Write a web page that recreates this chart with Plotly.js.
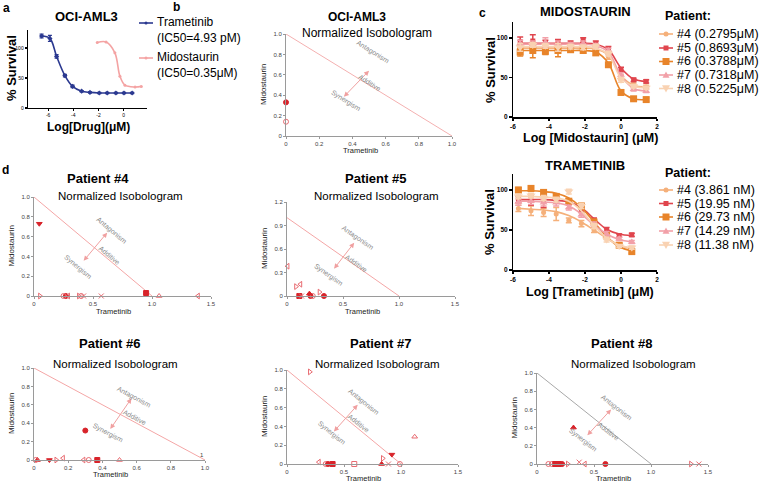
<!DOCTYPE html>
<html><head><meta charset="utf-8">
<script src="https://cdn.plot.ly/plotly-3.0.1.min.js"></script>
<style>html,body{margin:0;padding:0;background:#fff}</style>
</head><body><div id="chart" style="width:759px;height:482px"></div>
<script>
// ---------------- DATA ----------------
// Panel a: OCI-AML3 dose response (log µM, % survival)
const aTramLog  = [-6.52,-5.86,-5.33,-4.67,-4.06,-3.34,-2.68,-1.94,-1.31,-0.62,0.02,0.67];
const aTramSurv = [120,116,86,54,36,28,26,25,25,25,25,25];
const aMidoLog  = [-2.1,-1.4,-0.7,-0.3,0.1,0.9,1.4];
const aMidoSurv = [109,110,92,53,38,35,36];
const aNames = ['Trametinib','Midostaurin'];
const aIC50  = ['(IC50=4.93 pM)','(IC50=0.35μM)'];

// Panel b: OCI-AML3 normalized isobologram
const bTram = [0,0];
const bMido = [0.33,0.14];
const bSeries = [0,7];
const additiveX = [0,1];
const additiveY = [1,0];

// Panel c: patient dose responses
const patients = ['#4','#5','#6','#7','#8'];
const midoIC50 = ['0.2795μM','0.8693μM','0.3788μM','0.7318μM','0.5225μM'];
const tramIC50 = ['3.861 nM','19.95 nM','29.73 nM','14.29 nM','11.38 nM'];
const midoLog = [-5.6,-4.9,-4.2,-3.5,-2.8,-2.1,-1.4,-0.7,0,0.7,1.4];
const midoPts = [
  [86,88,89,85,88,90,86,76,50,41,38],
  [95,96,93,94,93,97,93,86,60,47,45],
  [82,84,83,84,85,84,81,66,31,23,22],
  [93,92,94,92,91,93,90,84,53,35,33],
  [88,91,90,88,89,88,89,80,47,39,37]];
const midoFit = [
  [87,87,87,87,87,87,86,78,52,40,38],
  [93,93,93,93,93,93,92,85,62,48,45],
  [84,84,84,84,84,84,82,68,33,23,22],
  [92,92,92,92,92,92,90,82,52,36,33],
  [89,89,89,89,89,89,87,79,49,39,37]];
const midoErr = [
  [4,3,3,4,3,3,3,3,3,2,2],
  [6,8,4,4,3,3,3,3,3,2,2],
  [5,9,4,8,3,3,3,3,3,2,2],
  [4,4,6,4,3,3,3,3,3,2,2],
  [5,3,3,5,3,3,3,3,3,2,2]];
const tramLog = [-5.7,-5.0,-4.3,-3.6,-2.9,-2.2,-1.5,-0.8,-0.1,0.6];
const tramPts = [
  [77,74,72,70,62,58,50,41,32,27],
  [88,87,86,88,85,75,62,50,43,44],
  [100,102,97,92,86,80,60,44,31,23],
  [85,86,84,84,78,69,57,45,39,35],
  [92,93,90,88,98,80,55,38,30,28]];
const tramFit = [
  [77,76,75,73,68,60,50,40,31,27],
  [88,88,88,87,85,78,64,51,45,43],
  [99,99,98,96,90,78,60,42,29,24],
  [86,86,85,84,80,70,56,45,38,35],
  [92,92,91,90,86,74,56,40,31,28]];
const tramErr = [
  [4,6,5,8,3,4,3,3,2,2],
  [4,6,8,4,3,3,3,3,2,2],
  [3,3,3,3,3,3,3,3,2,2],
  [4,4,4,4,3,3,3,3,2,2],
  [3,3,3,3,3,3,3,3,2,2]];

// Panel d: patient normalized isobolograms (Trametinib, Midostaurin, combination series index)
const p4Tram = [0.045,0.95,1.06,0.27,0.25,0.29,0.40,0.42,0.38,0.57,0.05,1.39];
const p4Mido = [0.73,0.03,0,0,0,0,0,0,0,0,0,0];
const p4Ser  = [3,1,9,0,7,5,7,6,4,6,4,5];
const p5Tram = [0.006,0.08,0.12,0.11,0.21,0.23,0.29,0.33,0.20,0.13];
const p5Mido = [0.38,0.12,0.15,0,0,0,0.05,0,0.03,0];
const p5Ser  = [5,4,5,1,0,7,4,0,2,6];
const p6Tram = [0.30,0.02,0.01,0.09,0.13,0.17,0.29,0.32,0.37,0.50];
const p6Mido = [0.32,0,0,0,0,0.02,0,0,0,0];
const p6Ser  = [0,2,7,3,4,5,5,7,1,9];
const p7Tram = [0.20,0.92,0.84,0.83,1.12,0.28,0.34,0.36,0.40,0.59,0.89,0.99];
const p7Mido = [0.98,0.10,0.06,0,0.29,0.02,0,0,0,0,0,0];
const p7Ser  = [4,3,4,2,9,5,7,0,1,8,6,7];
const p8Tram = [0.32,0.60,0.37,0.10,0.13,0.16,0.19,0.22,0.27,0.42,1.35,1.42];
const p8Mido = [0.40,0,0.02,0,0,0,0,0,0,0,0,0];
const p8Ser  = [2,0,6,7,7,1,1,0,4,5,4,6];

// ---------------- STYLE / LAYOUT ----------------
const W=759,H=482;
const X=p=>p/W, Y=p=>1-p/H;
const FONT='Liberation Sans, Arial, sans-serif';
const pColors=['#F5B07A','#E0454D','#E8842A','#F2A0A8','#F9D2B2'];
const pSym=['circle','square','square','triangle-up','triangle-down'];
const pSize=[5,5,7,7,8];
const SYM=['circle','square','triangle-up','triangle-down','triangle-right-open','triangle-left-open','x-thin-open','circle-open','square-open','triangle-up-open'];
const SYMCOL=['#D8232A','#D8232A','#D8232A','#D8232A','#E86A70','#E86A70','#E86A70','#E86A70','#E86A70','#E86A70'];

const traces=[];
const layout={width:W,height:H,margin:{l:0,r:0,t:0,b:0},paper_bgcolor:'#fff',plot_bgcolor:'rgba(0,0,0,0)',
  showlegend:false,font:{family:FONT,color:'#000'},annotations:[],shapes:[]};

function fmt(v){return v===0?'0':v.toFixed(1);}
function setAxes(n,xp0,xp1,xr,yp0,yp1,yr,o){
  const xs=n===1?'xaxis':'xaxis'+n, ys=n===1?'yaxis':'yaxis'+n;
  const base={showgrid:false,zeroline:false,showline:true,ticks:'outside',fixedrange:true,
    linecolor:o.lc,tickcolor:o.lc,linewidth:o.lw,tickwidth:o.lw,ticklen:o.tl,
    tickfont:{family:FONT,size:o.fs,color:o.tc}};
  layout[xs]=Object.assign({},base,{domain:[X(xp0),X(xp1)],range:xr,anchor:n===1?'y':'y'+n,
    tickvals:o.xt,ticktext:o.xtt||o.xt.map(fmt)});
  layout[ys]=Object.assign({},base,{domain:[Y(yp0),Y(yp1)],range:yr,anchor:n===1?'x':'x'+n,
    tickvals:o.yt,ticktext:o.ytt||o.yt.map(fmt)});
}
function txt(t,px,py,size,o={}){
  layout.annotations.push(Object.assign({text:t,x:X(px),y:Y(py),xref:'paper',yref:'paper',showarrow:false,
    xanchor:'center',yanchor:'middle',font:{family:FONT,size:size,color:o.color||'#000'}},o.extra||{}));
}
function refs(n){return n===1?{x:'x',y:'y'}:{x:'x'+n,y:'y'+n};}

// ---- Panel a ----
const prism={lc:'#000',lw:1.3,tl:2,fs:5,tc:'#000'};
setAxes(1,28,147,[-7.6,1.85],108,30,[0,130],Object.assign({},prism,{xt:[-6,-4,-2,0],xtt:['-6','-4','-2','0'],yt:[0,50,100],ytt:['0','50','100']}));
traces.push({x:aTramLog,y:aTramSurv,xaxis:'x',yaxis:'y',mode:'lines+markers',line:{color:'#2B3990',width:1.6,shape:'spline'},
  marker:{color:'#2B3990',size:4,symbol:'diamond'},error_y:{type:'data',array:[3,5,3,2,2,1,1,1,1,1,1,1],color:'#2B3990',thickness:1.2,width:2},cliponaxis:false});
traces.push({x:aMidoLog,y:aMidoSurv,xaxis:'x',yaxis:'y',mode:'lines+markers',line:{color:'#F4A3A3',width:1.6,shape:'spline'},
  marker:{color:'#F4A3A3',size:3},cliponaxis:false});
txt('<b>a</b>',6,8,12);
txt('<b>OCI-AML3</b>',86,17,13);
txt('<b>% Survival</b>',12,68,13,{extra:{textangle:-90}});
txt('<b>Log[Drug](μM)</b>',88,127,12);
// legend a
[[23,'#2B3990'],[58,'#F4A3A3']].forEach((r,i)=>{
  layout.shapes.push({type:'line',xref:'paper',yref:'paper',x0:X(139),x1:X(153),y0:Y(r[0]),y1:Y(r[0]),line:{color:r[1],width:1.6}});
  layout.shapes.push({type:'circle',xref:'paper',yref:'paper',x0:X(144.5),x1:X(147.5),y0:Y(r[0]+1.5),y1:Y(r[0]-1.5),fillcolor:r[1],line:{width:0}});
  txt(aNames[i]+'<br>'+aIC50[i],155,r[0]+7,12,{extra:{xanchor:'left',align:'left'}});
});

// ---- Isobolograms ----
const iso={lc:'#9a9a9a',lw:1,tl:2,fs:6,tc:'#444'};
function isoPanel(n,xp0,xp1,xmax,xdt,yp0,yp1,ymax,ydt,tx,my,ser,lineCol,arrow,labels,ang,xlabOff){
  const xt=[],yt=[];
  for(let v=0;v<=xmax+1e-9;v+=xdt) xt.push(+v.toFixed(2));
  for(let v=0;v<=ymax+1e-9;v+=ydt) yt.push(+v.toFixed(2));
  setAxes(n,xp0,xp1,[0,xmax],yp0,yp1,[0,ymax],Object.assign({},iso,{xt:xt,yt:yt}));
  const r=refs(n);
  traces.push({x:additiveX,y:additiveY,xaxis:r.x,yaxis:r.y,mode:'lines',line:{color:lineCol,width:1},cliponaxis:false,hoverinfo:'skip'});
  traces.push({x:tx,y:my,xaxis:r.x,yaxis:r.y,mode:'markers',cliponaxis:false,
    marker:{symbol:ser.map(s=>SYM[s]),color:ser.map(s=>SYMCOL[s]),size:5,line:{color:ser.map(s=>SYMCOL[s]),width:1}}});
  layout.annotations.push({xref:r.x,yref:r.y,axref:r.x,ayref:r.y,x:arrow[2],y:arrow[3],ax:arrow[0],ay:arrow[1],text:'',
    showarrow:true,arrowside:'end+start',arrowhead:2,startarrowhead:2,arrowsize:1,startarrowsize:1,arrowwidth:1,arrowcolor:'#F0A0A0'});
  ['Antagonism','Additive','Synergism'].forEach((t,i)=>{
    layout.annotations.push({xref:r.x,yref:r.y,x:labels[i][0],y:labels[i][1],text:t,showarrow:false,textangle:ang,
      font:{family:FONT,size:7,color:'#8a8a8a'}});
  });
  const cy=(yp0+yp1)/2;
  txt('Trametinib',xp0+(xp1-xp0)*0.45,yp0+xlabOff,7.5,{color:'#222'});
  txt('Midostaurin',xp0-23,cy,8,{color:'#222',extra:{textangle:-90}});
}

// b
isoPanel(2,286,452,1.0,0.2,136,34,1.0,0.2,bTram,bMido,bSeries,'#F4B0B0',[0.34,0.37,0.5,0.64],
  [[0.52,0.82],[0.5,0.52],[0.36,0.34]],32,14);
txt('<b>b</b>',176,7,12);
txt('<b>OCI-AML3</b>',357,17,12);
txt('Normalized Isobologram',367,33,12);

// #4
isoPanel(5,34,211,1.5,0.5,296,197,1.0,0.2,p4Tram,p4Mido,p4Ser,'#F4A6A6',[0.41,0.34,0.62,0.64],
  [[0.66,0.66],[0.64,0.41],[0.37,0.29]],40,15);
txt('<b>d</b>',5,170,12);
txt('<b>Patient #4</b>',98,178,13);
txt('Normalized Isobologram',120,196,11.5);
// #5
isoPanel(6,287,455,1.5,0.5,296,202,1.2,0.3,p5Tram,p5Mido,p5Ser,'#F4A6A6',[0.41,0.33,0.6,0.68],
  [[0.63,0.74],[0.62,0.42],[0.37,0.27]],35,15);
txt('<b>Patient #5</b>',375,178,13);
txt('Normalized Isobologram',376,196,11.5);
// #6
isoPanel(7,34,205,1.0,0.2,460,368,1.0,0.2,p6Tram,p6Mido,p6Ser,'#F4A6A6',[0.44,0.32,0.57,0.67],
  [[0.58,0.68],[0.59,0.46],[0.43,0.29]],28,14);
txt('<b>Patient #6</b>',109,343,13);
txt('Normalized Isobologram',116,364,11.5);
layout.annotations.push({xref:'x7',yref:'y7',x:0.985,y:0.05,text:'1',showarrow:false,font:{family:FONT,size:6,color:'#444'}});
// #7
isoPanel(8,287,458,1.5,0.5,464,370,1.0,0.2,p7Tram,p7Mido,p7Ser,'#F4A6A6',[0.4,0.33,0.62,0.63],
  [[0.67,0.66],[0.63,0.43],[0.39,0.33]],39,14);
txt('<b>Patient #7</b>',380,343,13);
txt('Normalized Isobologram',377,364,11.5);
// #8
isoPanel(9,537,708,1.5,0.5,464,373,1.0,0.2,p8Tram,p8Mido,p8Ser,'#A8A8A8',[0.43,0.30,0.65,0.60],
  [[0.70,0.62],[0.63,0.36],[0.40,0.26]],38,14);
txt('<b>Patient #8</b>',621,343,13);
txt('Normalized Isobologram',633,364,11.5);

// ---- Panel c ----
const prismC={lc:'#000',lw:1.5,tl:2.5,fs:6.5,tc:'#000'};
const cXt=[-6,-4,-2,0,2], cXtt=cXt.map(v=>'<b>'+v+'</b>'), cYt=[0,50,100], cYtt=cYt.map(v=>'<b>'+v+'</b>');
setAxes(3,513,657,[-6,2],117,22,[0,120],Object.assign({},prismC,{xt:cXt,xtt:cXtt,yt:cYt,ytt:cYtt}));
setAxes(4,513,657,[-6,2],270,174,[0,120],Object.assign({},prismC,{xt:cXt,xtt:cXtt,yt:cYt,ytt:cYtt}));
for(let i=0;i<5;i++){
  traces.push({x:midoLog,y:midoFit[i],xaxis:'x3',yaxis:'y3',mode:'lines',line:{color:pColors[i],width:1.6,shape:'spline'},hoverinfo:'skip'});
  traces.push({x:midoLog,y:midoPts[i],xaxis:'x3',yaxis:'y3',mode:'markers',cliponaxis:false,
    marker:{color:pColors[i],symbol:pSym[i],size:pSize[i]},error_y:{type:'data',array:midoErr[i],color:pColors[i],thickness:1.5,width:3}});
  traces.push({x:tramLog,y:tramFit[i],xaxis:'x4',yaxis:'y4',mode:'lines',line:{color:pColors[i],width:1.6,shape:'spline'},hoverinfo:'skip'});
  traces.push({x:tramLog,y:tramPts[i],xaxis:'x4',yaxis:'y4',mode:'markers',cliponaxis:false,
    marker:{color:pColors[i],symbol:pSym[i],size:pSize[i]},error_y:{type:'data',array:tramErr[i],color:pColors[i],thickness:1.5,width:3}});
}
txt('<b>c</b>',482,13,12);
txt('<b>MIDOSTAURIN</b>',585,11,13);
txt('<b>% Survival</b>',490,70,13,{extra:{textangle:-90}});
txt('<b>Log [Midostaurin] (μM)</b>',590,138,12.5);
txt('<b>TRAMETINIB</b>',585,165,13);
txt('<b>% Survival</b>',490,222,13,{extra:{textangle:-90}});
txt('<b>Log [Trametinib] (μM)</b>',590,292,12.5);

function swatch(px,py,i){
  const c=pColors[i], r=pSize[i]/2;
  layout.shapes.push({type:'line',xref:'paper',yref:'paper',x0:X(px-7),x1:X(px+7),y0:Y(py),y1:Y(py),line:{color:c,width:1.6}});
  const s=pSym[i];
  if(s==='circle') layout.shapes.push({type:'circle',xref:'paper',yref:'paper',x0:X(px-r),x1:X(px+r),y0:Y(py+r),y1:Y(py-r),fillcolor:c,line:{width:0}});
  else if(s==='square') layout.shapes.push({type:'rect',xref:'paper',yref:'paper',x0:X(px-r),x1:X(px+r),y0:Y(py+r),y1:Y(py-r),fillcolor:c,line:{width:0}});
  else {
    const d=s==='triangle-up'?1:-1;
    layout.shapes.push({type:'path',xref:'paper',yref:'paper',fillcolor:c,line:{width:0},
      path:`M ${X(px)},${Y(py-d*r)} L ${X(px+r)},${Y(py+d*r*0.8)} L ${X(px-r)},${Y(py+d*r*0.8)} Z`});
  }
}
function legendC(top,rows,labels){
  txt('<b>Patient:</b>',663,top,12.5,{extra:{xanchor:'left'}});
  rows.forEach((py,i)=>{swatch(666,py,i);txt(patients[i]+' ('+labels[i]+')',675,py,12.5,{extra:{xanchor:'left'}});});
}
legendC(16,[34,48,61.5,75,88.5],midoIC50);
legendC(173,[190,203.5,217,231,245],tramIC50);

Plotly.newPlot('chart',traces,layout,{displayModeBar:false,staticPlot:true});
</script></body></html>
